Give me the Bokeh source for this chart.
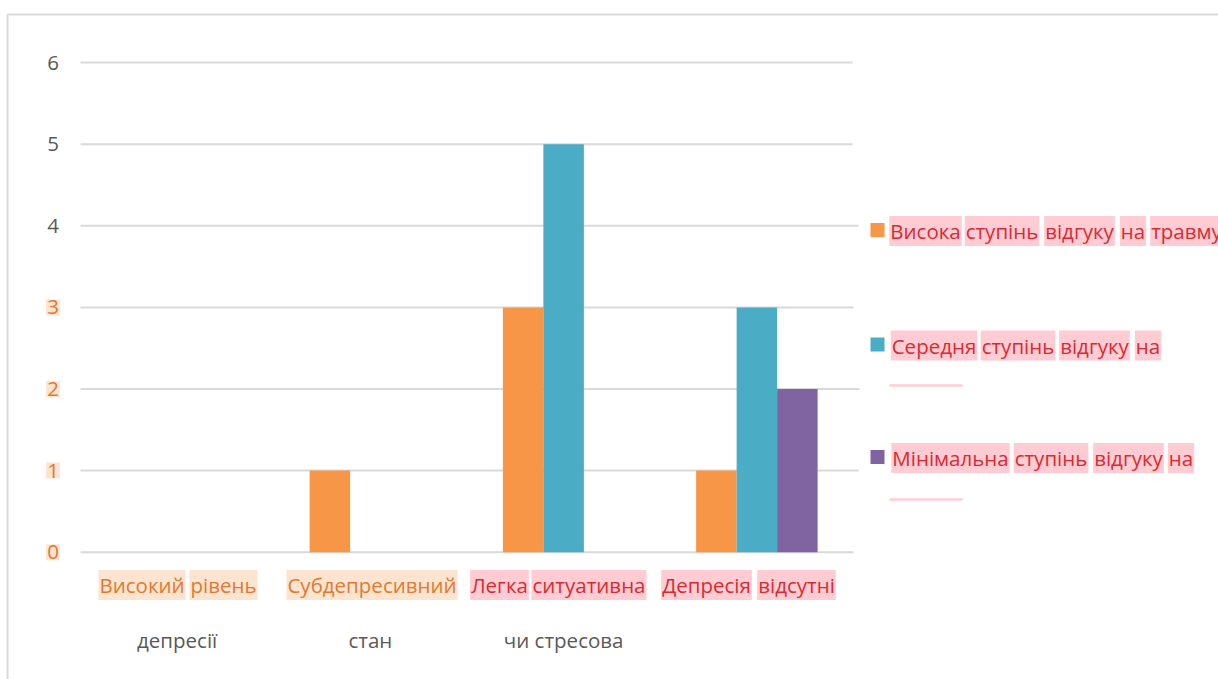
from bokeh.plotting import figure
from bokeh.models import Range1d, ColumnDataSource
from bokeh.transform import dodge
from bokeh.core.properties import value
from bokeh.embed import file_html
from bokeh.resources import INLINE

# ---- data -------------------------------------------------------------
categories = [
    "Високий рівень депресії",
    "Субдепресивний стан",
    "Легка ситуативна чи стресова",
    "Депресія відсутні",
]
cat_line1 = ["Високий рівень", "Субдепресивний", "Легка ситуативна", "Депресія відсутні"]
cat_line2 = ["депресії", "стан", "чи стресова", ""]

series_names = [
    "Висока ступінь відгуку на травму",
    "Середня ступінь відгуку на",
    "Мінімальна ступінь відгуку на",
]
high = [0, 1, 3, 1]
medium = [0, 0, 5, 3]
minimal = [0, 0, 0, 2]

y_ticks = [0, 1, 2, 3, 4, 5, 6]

# ---- page geometry (pixels) ------------------------------------------
W, H = 1218, 679
PL, PR = 80, 853          # plot area left / right
Y0, PPU = 551.7, 81.6     # pixel row of value 0, pixels per unit
GW = (PR - PL) / len(categories)


def dx(px):
    return (px - PL) / GW


def dy(py):
    return (Y0 - py) / PPU


FONT = value("Open Sans")
FS = "20.5px"
GRID = "#d9d9d9"
COLORS = ["#f79646", "#4bacc6", "#8064a2"]
ORANGE_TXT, ORANGE_BG = "#e07a2e", "#fde4d1"
RED_TXT, PINK_BG = "#d92a31", "#ffccd3"
GRAY_TXT = "#595959"

p = figure(
    width=W, height=H,
    x_range=Range1d(dx(0), dx(W)), y_range=Range1d(dy(H), dy(0)),
    min_border=0, toolbar_location=None, output_backend="svg",
    x_axis_location=None, y_axis_location=None,
    outline_line_color=None, background_fill_color="white",
    border_fill_color="white",
)
p.grid.visible = False

# chart-area border (top and left edges are inside the page)
p.line(x=[dx(7), dx(7), dx(W + 20)], y=[dy(H + 20), dy(14), dy(14)],
       line_color=GRID, line_width=2)

# horizontal gridlines
grid_end = {0: 853, 1: 858, 2: 859, 3: 853, 4: 858, 5: 852, 6: 852}
p.segment(x0=[0] * len(y_ticks), x1=[dx(grid_end[t]) for t in y_ticks],
          y0=y_ticks, y1=y_ticks, line_color=GRID, line_width=2)

# clustered bars
src = ColumnDataSource(dict(
    x=[i + 0.5 for i in range(len(categories))],
    high=high, medium=medium, minimal=minimal,
))
bw = 40.5 / GW
for key, off, col in zip(["high", "medium", "minimal"], [-bw, 0, bw], COLORS):
    p.vbar(x=dodge("x", off, range=p.x_range), top=key, bottom=0, width=bw,
           source=src, fill_color=col, line_color=None)

# y tick labels
hl_ticks = [t for t in y_ticks if t <= 3]
plain_ticks = [t for t in y_ticks if t > 3]
p.text(x=[dx(52.5)] * len(hl_ticks), y=hl_ticks, text=[str(t) for t in hl_ticks],
       text_font=FONT, text_font_size=FS, text_color=ORANGE_TXT,
       text_align="center", text_baseline="middle",
       background_fill_color=ORANGE_BG, padding=1)
p.text(x=[dx(52.5)] * len(plain_ticks), y=plain_ticks, text=[str(t) for t in plain_ticks],
       text_font=FONT, text_font_size=FS, text_color=GRAY_TXT,
       text_align="center", text_baseline="middle")

# category labels, first line: each word highlighted separately
word_centers = [[141.5, 223], [371.5], [499, 588.5], [706, 796]]
word_styles = [(ORANGE_TXT, ORANGE_BG), (ORANGE_TXT, ORANGE_BG),
               (RED_TXT, PINK_BG), (RED_TXT, PINK_BG)]
for line, centers, (tc, bg) in zip(cat_line1, word_centers, word_styles):
    words = line.split()
    p.text(x=[dx(c) for c in centers], y=[dy(584.5)] * len(words), text=words,
           text_font=FONT, text_font_size=FS, text_color=tc,
           text_align="center", text_baseline="middle",
           background_fill_color=bg, padding=1)

# category labels, second line
p.text(x=[i + 0.5 for i in range(len(categories))], y=[dy(639)] * len(categories),
       text=cat_line2, text_font=FONT, text_font_size=FS, text_color=GRAY_TXT,
       text_align="center", text_baseline="middle")

# legend
legend_rows = [230.5, 345, 457.5]
legend_word_centers = [
    [925, 1001.5, 1079, 1132.5, 1186],
    [933.5, 1017.5, 1094, 1147.5],
    [950, 1050.5, 1128, 1180.5],
]
p.rect(x=[dx(877)] * 3, y=[dy(r - 1) for r in legend_rows], width=14, height=14,
       width_units="screen", height_units="screen", fill_color=COLORS, line_color=None)
for name, row, centers in zip(series_names, legend_rows, legend_word_centers):
    words = name.split()
    p.text(x=[dx(c) for c in centers], y=[dy(row)] * len(words), text=words,
           text_font=FONT, text_font_size=FS, text_color=RED_TXT,
           text_align="center", text_baseline="middle",
           background_fill_color=PINK_BG, padding=1)

# highlighted empty continuation lines under the wrapped legend entries
p.segment(x0=[dx(889)] * 2, x1=[dx(962)] * 2, y0=[dy(385), dy(499)], y1=[dy(385), dy(499)],
          line_color=PINK_BG, line_width=2.5)

open("out.html", "w").write(file_html(p, INLINE))
